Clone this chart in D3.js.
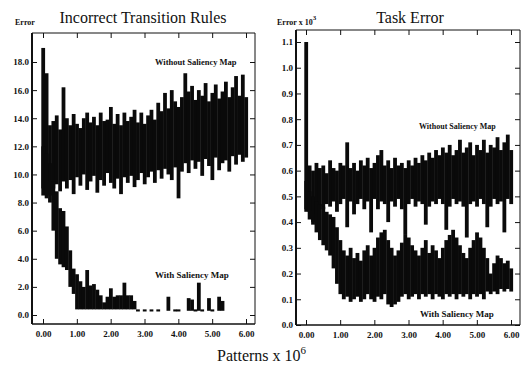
<!DOCTYPE html>
<html>
<head>
<meta charset="utf-8">
<script src="https://cdn.jsdelivr.net/npm/d3@7"></script>
<style>
  body { margin: 0; background: #fff; }
  svg text { font-family: "Liberation Serif", "Times New Roman", serif; fill: #111; }
</style>
</head>
<body>
<div id="chart"></div>
<script>
// sample positions (patterns x 10^6)
const patterns = [
  0.0, 0.1, 0.2, 0.3, 0.4, 0.5, 0.6, 0.7, 0.8, 0.9,
  1.0, 1.1, 1.2, 1.3, 1.4, 1.5, 1.6, 1.7, 1.8, 1.9,
  2.0, 2.1, 2.2, 2.3, 2.4, 2.5, 2.6, 2.7, 2.8, 2.9,
  3.0, 3.1, 3.2, 3.3, 3.4, 3.5, 3.6, 3.7, 3.8, 3.9,
  4.0, 4.1, 4.2, 4.3, 4.4, 4.5, 4.6, 4.7, 4.8, 4.9,
  5.0, 5.1, 5.2, 5.3, 5.4, 5.5, 5.6, 5.7, 5.8, 5.9,
  6.0
];

// Incorrect transition rules: without saliency map (upper / lower envelope)
const ruleWithoutHi = [
  19.0, 17.2, 13.5, 13.8, 14.2, 13.2, 16.2, 14.0, 13.5, 14.3,
  13.6, 13.3, 14.0, 14.4, 13.7, 14.1, 13.5, 14.4, 13.8, 13.9,
  14.8, 13.6, 14.3, 13.5, 14.4, 13.8, 14.1, 14.6, 13.7, 14.4,
  13.6, 14.2, 14.6, 13.9, 15.1, 14.5, 15.8, 14.7, 16.0, 15.2,
  14.8, 15.5, 17.2, 15.9, 16.3, 15.3, 16.0, 15.6, 16.5, 15.2,
  15.8, 16.4, 15.4, 15.9, 16.6, 15.5, 16.2, 17.0, 15.6, 17.1,
  15.5
];
const ruleWithoutLo = [
  9.0, 9.5, 8.5, 9.0, 9.3, 8.8, 9.5, 9.0, 9.6, 8.6,
  9.8, 9.2, 10.0, 8.9, 9.5, 9.9, 8.7, 9.6, 9.2, 10.1,
  9.4, 9.0, 9.7, 8.6, 9.8, 9.4, 9.9, 9.1, 9.6, 10.1,
  9.3, 9.8, 10.2, 9.4, 10.3, 9.7, 10.4, 10.0, 9.6, 10.5,
  8.3, 10.2, 10.8, 10.1, 11.0, 10.4, 10.9, 9.9, 11.1, 10.6,
  9.6, 11.2, 10.3, 10.8, 11.0, 10.2, 11.3, 10.7, 11.4, 10.9,
  11.2
];

// Incorrect transition rules: with saliency map
const ruleWithHi = [
  12.0, 11.5, 10.8, 9.5, 8.8, 7.6, 7.4, 6.3, 4.6, 3.3,
  2.9, 2.4, 2.0, 3.2, 2.1, 2.2, 1.8, 1.4, 0.9, 1.3,
  1.9, 1.3, 1.4, 1.4, 2.3, 1.4, 1.4, 1.0, 0.4, null,
  0.4, null, 0.4, null, 0.4, null, null, 1.3, null, 0.4,
  0.4, null, null, 1.2, 1.1, 0.4, 2.3, 0.4, null, 1.2,
  0.4, null, 1.3, 1.0, null, null, null, null, null, null,
  null
];
const ruleWithLo = [
  8.5, 8.3, 8.0, 6.0, 4.0, 3.6, 3.4, 3.2, 2.0, 1.5,
  0.4, 0.4, 0.4, 0.4, 0.4, 0.4, 0.4, 0.4, 0.4, 0.4,
  0.4, 0.4, 0.4, 0.4, 0.4, 0.4, 0.4, 0.4, 0.25, null,
  0.25, null, 0.25, null, 0.25, null, null, 0.3, null, 0.25,
  0.25, null, null, 0.3, 0.3, 0.25, 0.3, 0.25, null, 0.3,
  0.25, null, 0.3, 0.3, null, null, null, null, null, null,
  null
];

// Task error (x 10^3): without saliency map
const taskWithoutHi = [
  1.10, 0.62, 0.60, 0.63, 0.61, 0.62, 0.59, 0.64, 0.61, 0.60,
  0.63, 0.62, 0.71, 0.61, 0.63, 0.60, 0.64, 0.62, 0.65, 0.61,
  0.63, 0.66, 0.68, 0.62, 0.64, 0.61, 0.65, 0.62, 0.63, 0.61,
  0.64, 0.62, 0.65, 0.63, 0.66, 0.64, 0.67, 0.65, 0.68, 0.66,
  0.69, 0.67, 0.70, 0.66, 0.68, 0.72, 0.67, 0.69, 0.71, 0.66,
  0.70, 0.68, 0.72, 0.67, 0.70, 0.69, 0.73, 0.68, 0.71, 0.74,
  0.68
];
const taskWithoutLo = [
  0.45, 0.44, 0.40, 0.43, 0.46, 0.45, 0.47, 0.46, 0.48, 0.44,
  0.47, 0.49, 0.38, 0.48, 0.43, 0.47, 0.49, 0.45, 0.48, 0.36,
  0.49, 0.45, 0.48, 0.47, 0.40, 0.48, 0.46, 0.49, 0.45, 0.35,
  0.47, 0.49, 0.46, 0.48, 0.47, 0.39, 0.46, 0.48, 0.47, 0.49,
  0.47, 0.37, 0.46, 0.49, 0.47, 0.48, 0.46, 0.34, 0.47, 0.48,
  0.46, 0.49, 0.47, 0.38, 0.46, 0.49, 0.47, 0.48, 0.36, 0.49,
  0.47
];

// Task error (x 10^3): with saliency map
const taskWithHi = [
  0.56, 0.52, 0.50, 0.48, 0.47, 0.46, 0.44, 0.43, 0.42, 0.38,
  0.33, 0.29, 0.27, 0.30, 0.26, 0.28, 0.25, 0.29, 0.31, 0.27,
  0.30, 0.34, 0.36, 0.37, 0.33, 0.30, 0.27, 0.29, 0.32, 0.35,
  0.34, 0.31, 0.29, 0.27, 0.30, 0.33, 0.28, 0.31, 0.29, 0.26,
  0.30, 0.33, 0.35, 0.37, 0.34, 0.31, 0.28, 0.26, 0.30, 0.33,
  0.36, 0.34, 0.30, 0.26, 0.20, 0.24, 0.27, 0.26, 0.24, 0.25,
  0.22
];
const taskWithLo = [
  0.44, 0.41, 0.39, 0.36, 0.33, 0.31, 0.29, 0.27, 0.22, 0.16,
  0.12, 0.10, 0.11, 0.09, 0.10, 0.11, 0.09, 0.10, 0.12, 0.10,
  0.09, 0.11, 0.10, 0.12, 0.08, 0.07, 0.08, 0.09, 0.11, 0.12,
  0.10, 0.11, 0.12, 0.10, 0.12, 0.11, 0.12, 0.10, 0.12, 0.11,
  0.10, 0.12, 0.11, 0.12, 0.10, 0.12, 0.11, 0.12, 0.10, 0.12,
  0.11, 0.12, 0.10, 0.13, 0.12, 0.13, 0.12, 0.14, 0.13, 0.14,
  0.13
];

const patternTicks = [0, 1, 2, 3, 4, 5, 6];
const ruleTicks = [0, 2, 4, 6, 8, 10, 12, 14, 16, 18];
const taskTicks = [0, 0.1, 0.2, 0.3, 0.4, 0.5, 0.6, 0.7, 0.8, 0.9, 1.0, 1.1];

const width = 524, height = 367;

const svg = d3.select('#chart')
  .append('svg')
  .attr('width', width)
  .attr('height', height);

function drawPanel(p) {
  const g = svg.append('g');
  const x = d3.scaleLinear().domain([0, 6]).range(p.xRange);
  const y = d3.scaleLinear().domain(p.yDomain).range(p.yRange);
  const step = x(patterns[1]) - x(patterns[0]);

  // envelopes drawn as dense vertical strokes
  p.series.forEach(s => {
    const pts = patterns
      .map((v, i) => ({ x: v, hi: s.hi[i], lo: s.lo[i] }))
      .filter(d => d.hi != null);
    g.append('g')
      .selectAll('rect')
      .data(pts)
      .enter()
      .append('rect')
      .attr('x', d => x(d.x) - step / 2)
      .attr('y', d => y(d.hi))
      .attr('width', step + 0.4)
      .attr('height', d => Math.max(1.5, y(d.lo) - y(d.hi)))
      .attr('fill', '#0a0a0a');
  });

  const fmtY = d3.format(p.yFormat);

  // Eje Y
  const left = g.append('g')
    .attr('transform', `translate(${p.frame.left},0)`)
    .call(d3.axisLeft(y).tickValues(p.yTicks).tickFormat(fmtY).tickSize(-5).tickSizeOuter(0).tickPadding(3));
  left.select('.domain').attr('d', `M0,${p.frame.top}V${p.frame.bottom}`).attr('stroke-width', 2);
  left.selectAll('text').style('font-size', '9px').style('font-weight', 'bold');

  // Eje X
  const bottom = g.append('g')
    .attr('transform', `translate(0,${p.frame.bottom})`)
    .call(d3.axisBottom(x).tickValues(patternTicks).tickFormat(d3.format('.2f')).tickSize(-5).tickSizeOuter(0).tickPadding(7));
  bottom.select('.domain').attr('d', `M${p.frame.left},0H${p.frame.right}`).attr('stroke-width', 1.5);
  bottom.selectAll('text').style('font-size', '9px').style('font-weight', 'bold');

  const top = g.append('g')
    .attr('transform', `translate(0,${p.frame.top})`)
    .call(d3.axisTop(x).tickValues(patternTicks).tickFormat('').tickSize(-5).tickSizeOuter(0));
  top.select('.domain').attr('d', `M${p.frame.left},0H${p.frame.right}`);

  const right = g.append('g')
    .attr('transform', `translate(${p.frame.right},0)`)
    .call(d3.axisRight(y).tickValues(p.yTicks).tickFormat('').tickSize(-5).tickSizeOuter(0));
  right.select('.domain').attr('d', `M0,${p.frame.top}V${p.frame.bottom}`);

  g.selectAll('.tick line').attr('stroke', '#111');
  g.selectAll('.domain').attr('stroke', '#111');

  // title
  svg.append('text')
    .attr('x', p.titleX)
    .attr('y', 23)
    .attr('text-anchor', 'middle')
    .style('font-size', '16px')
    .text(p.title);

  // y unit label
  const unit = svg.append('text')
    .attr('x', p.unitX)
    .attr('y', 25)
    .style('font-size', '8px')
    .style('font-weight', 'bold')
    .text(p.unit);
  if (p.unitSup) {
    unit.append('tspan').attr('dy', -5).style('font-size', '7px').text(p.unitSup);
  }

  // series labels
  p.labels.forEach(l => {
    svg.append('text')
      .attr('x', l.x)
      .attr('y', l.y)
      .style('font-size', l.size + 'px')
      .style('font-weight', 'bold')
      .text(l.text);
  });
}

drawPanel({
  xRange: [43, 246],
  yDomain: [0, 18],
  yRange: [315, 62],
  yTicks: ruleTicks,
  yFormat: '.1f',
  frame: { left: 32, right: 255, top: 33, bottom: 324 },
  series: [
    { hi: ruleWithoutHi, lo: ruleWithoutLo },
    { hi: ruleWithHi, lo: ruleWithLo }
  ],
  title: 'Incorrect Transition Rules',
  titleX: 143,
  unit: 'Error',
  unitX: 15,
  labels: [
    { text: 'Without Saliency Map', x: 155, y: 65, size: 8.5 },
    { text: 'With Saliency Map', x: 155, y: 278, size: 9 }
  ]
});

drawPanel({
  xRange: [306, 511],
  yDomain: [0, 1.1],
  yRange: [325, 42],
  yTicks: taskTicks,
  yFormat: '.1f',
  frame: { left: 296, right: 520, top: 30, bottom: 325 },
  series: [
    { hi: taskWithoutHi, lo: taskWithoutLo },
    { hi: taskWithHi, lo: taskWithLo }
  ],
  title: 'Task Error',
  titleX: 410,
  unit: 'Error x 10',
  unitSup: '3',
  unitX: 277,
  labels: [
    { text: 'Without Saliency Map', x: 419, y: 129, size: 8 },
    { text: 'With Saliency Map', x: 420, y: 317, size: 9 }
  ]
});

// shared x label
const xl = svg.append('text')
  .attr('x', 217)
  .attr('y', 361)
  .style('font-size', '16px')
  .text('Patterns x 10');
xl.append('tspan').attr('dy', -7).style('font-size', '11px').text('6');
</script>
</body>
</html>
